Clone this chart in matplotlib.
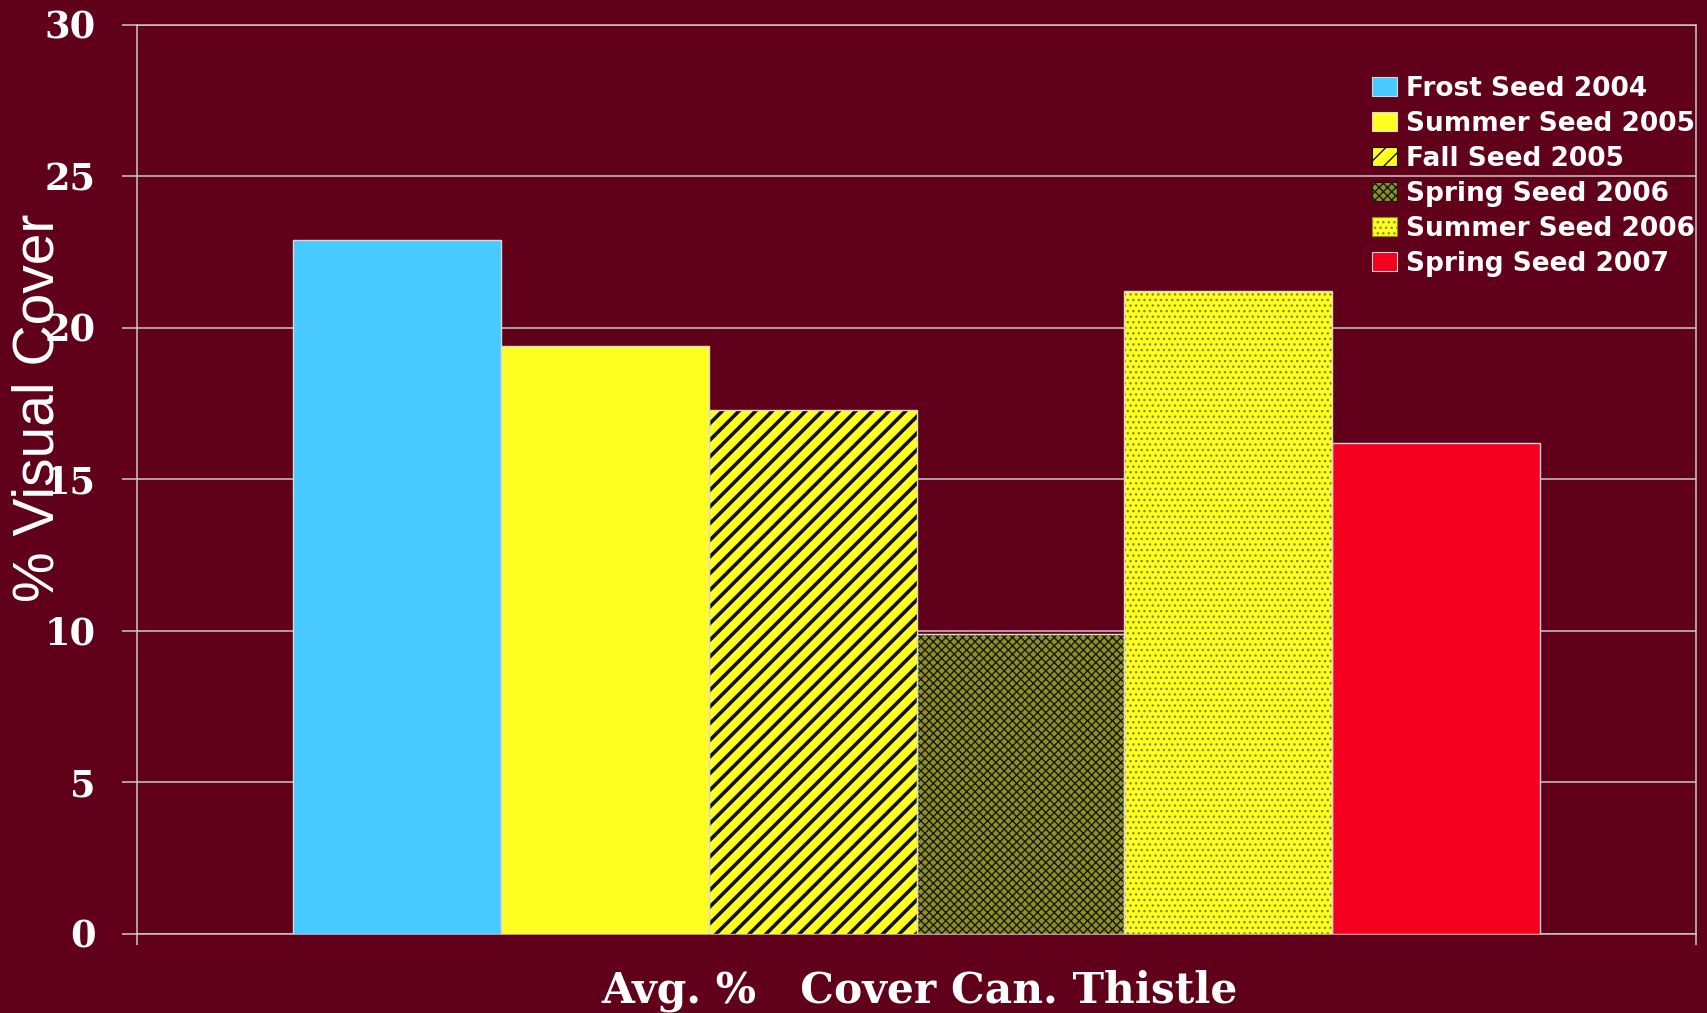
import matplotlib
matplotlib.use('Agg')
import matplotlib.pyplot as plt
from matplotlib.patches import Patch

series = ["Frost Seed 2004", "Summer Seed 2005", "Fall Seed 2005",
          "Spring Seed 2006", "Summer Seed 2006", "Spring Seed 2007"]
values = [22.9, 19.4, 17.3, 9.9, 21.2, 16.2]
category = "Avg. %   Cover Can. Thistle"
yticks = [0, 5, 10, 15, 20, 25, 30]

face = ['#48C9FF', '#FFFF22', '#FFFF22', '#8E8E2A', '#FFFF22', '#F5001E']
hatches = [None, None, '//', 'xxxx', '...', None]
hatchcol = [None, None, '#111100', '#1a1a00', '#8a8a10', None]
hatchlw = [0, 0, 2.6, 1.0, 1.0, 0]

BG = '#61001B'
GRID = '#C9C9C9'
EDGE = '#D8D8D8'

fig = plt.figure(figsize=(17.07, 10.13), dpi=100, facecolor=BG)
ax = fig.add_axes([0.0803, 0.0783, 0.9133, 0.8973])
ax.set_facecolor(BG)

n = len(values)
group = 0.8
w = group / n
xs = [-group / 2 + w * (i + 0.5) for i in range(n)]

for i in range(n):
    if hatches[i]:
        with plt.rc_context({'hatch.linewidth': hatchlw[i]}):
            bars = ax.bar(xs[i], values[i], width=w, color=face[i],
                          edgecolor=hatchcol[i], linewidth=0,
                          hatch=hatches[i], zorder=3)
            for p in bars:
                if hasattr(p, 'set_hatch_linewidth'):
                    p.set_hatch_linewidth(hatchlw[i])
    else:
        ax.bar(xs[i], values[i], width=w, color=face[i], linewidth=0, zorder=3)
    ax.bar(xs[i], values[i], width=w, fill=False, edgecolor=EDGE,
           linewidth=1.0, zorder=4)

ax.set_xlim(-0.5, 0.5)
ax.set_ylim(0, 30)
ax.set_yticks(yticks)
ax.set_yticklabels([str(t) for t in yticks], fontfamily='DejaVu Serif',
                   fontweight='bold', fontsize=26.5, color='white')
ax.set_xticks([-0.5, 0.5])
ax.set_xticklabels(['', ''])
ax.tick_params(axis='y', length=11, width=1.1, color=GRID, pad=19)
ax.tick_params(axis='x', length=8, width=1.1, color=GRID, direction='out')
ax.yaxis.grid(True, color=GRID, linewidth=1.1, zorder=1)
ax.set_axisbelow(True)
for s in ax.spines.values():
    s.set_color(GRID)
    s.set_linewidth(1.1)

fig.text(39 / 1707, 1 - 408 / 1013, '% Visual Cover', rotation=90,
         fontsize=41, family='Liberation Sans', color='white',
         ha='center', va='center')
fig.text(920 / 1707, 1 - 991 / 1013, category, fontsize=30.5,
         family='DejaVu Serif', fontweight='bold', color='white',
         ha='center', va='center')

handles = []
for i in range(n):
    handles.append(Patch(facecolor=face[i],
                         edgecolor=hatchcol[i] if hatches[i] else EDGE,
                         hatch=hatches[i], linewidth=0.8))
leg = ax.legend(handles, series, loc='upper left',
                bbox_to_anchor=(1372 / 1707, 1 - 76 / 1013),
                bbox_transform=fig.transFigure, frameon=False,
                prop={'family': 'DejaVu Sans', 'weight': 'bold', 'size': 19},
                handlelength=0.95, handleheight=0.72, handletextpad=0.32,
                labelspacing=0.34, borderpad=0, borderaxespad=0)
for t in leg.get_texts():
    t.set_color('white')

fig.savefig('out.png', dpi=100, facecolor=BG)
